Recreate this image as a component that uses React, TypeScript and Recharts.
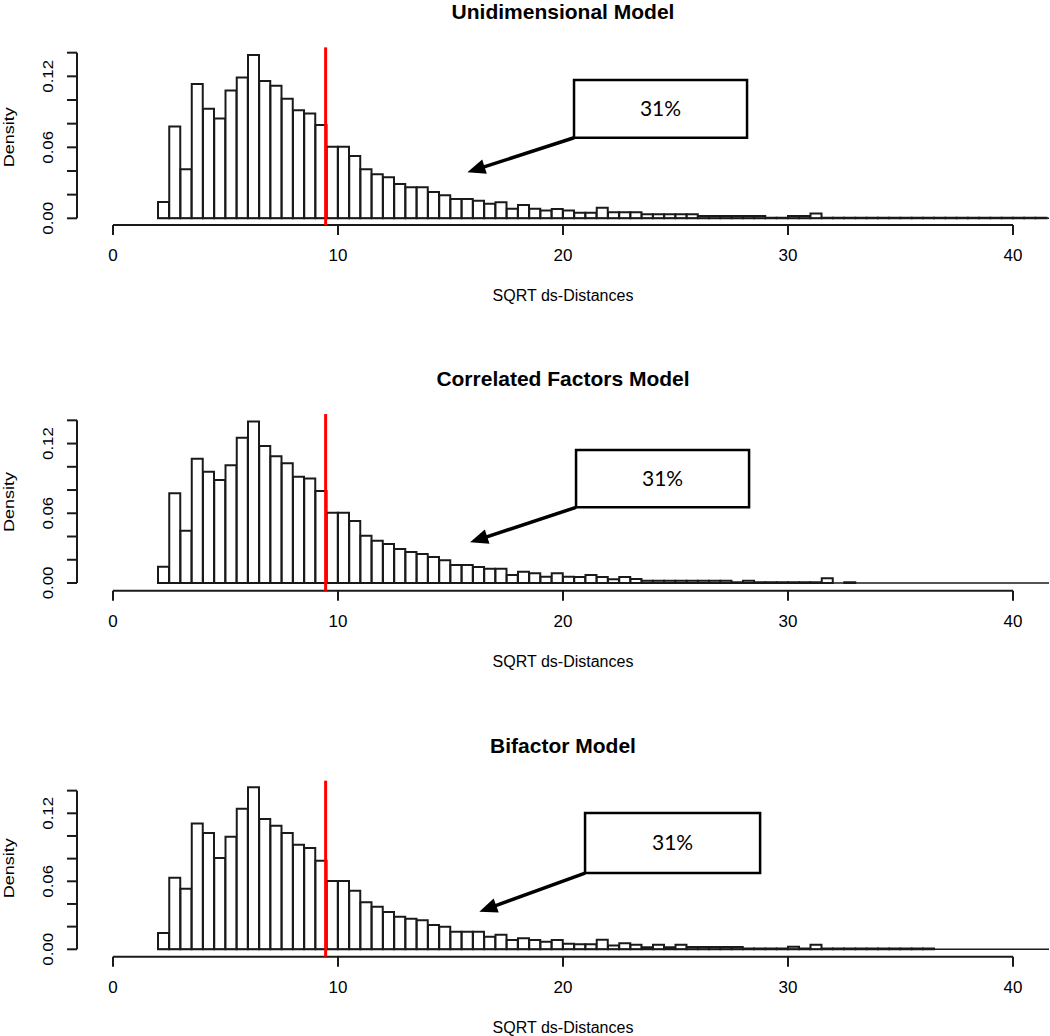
import React from "react";
import { BarChart, Bar, XAxis, YAxis, ReferenceLine, ReferenceArea } from "recharts";

// histogram bins: 0.5 wide, first bin starts at 2
const FIRST_BIN = 2;
const BIN_WIDTH = 0.5;

const X_TICKS = [0, 10, 20, 30, 40];
const Y_TICKS = [0, 0.02, 0.04, 0.06, 0.08, 0.1, 0.12, 0.14];
const Y_LABELLED = [0, 0.06, 0.12];
const CUTOFF = 9.45;
const PCT_LABEL = "31%";
const X_TITLE = "SQRT ds-Distances";
const Y_TITLE = "Density";
const TITLES = ["Unidimensional Model", "Correlated Factors Model", "Bifactor Model"];

const UNIDIMENSIONAL = [
  0.0138, 0.0775, 0.0414, 0.1135, 0.0927, 0.0843, 0.108, 0.119, 0.138, 0.116,
  0.112, 0.101, 0.0913, 0.0885, 0.0789, 0.0605, 0.0605, 0.0527, 0.0414, 0.0372,
  0.0347, 0.029, 0.0262, 0.0262, 0.0222, 0.0194, 0.0163, 0.0163, 0.0149, 0.0124,
  0.0135, 0.0081, 0.0112, 0.0081, 0.0065, 0.0079, 0.0065, 0.0048, 0.0048, 0.009,
  0.0051, 0.0051, 0.0051, 0.0034, 0.0034, 0.0034, 0.0034, 0.0034, 0.002, 0.002,
  0.002, 0.002, 0.002, 0.002, 0.0005, 0.0005, 0.002, 0.002, 0.004, 0.0005,
  0.0005, 0.0005, 0.0005, 0.0005, 0.0005, 0.0005, 0.0005, 0.0005, 0.0005, 0.0005,
  0.0005, 0.0005, 0.0005, 0.0005, 0.0005, 0.0005, 0.0005, 0.0005, 0.0005,
];

const CORRELATED = [
  0.014, 0.0772, 0.045, 0.107, 0.0958, 0.0886, 0.1013, 0.125, 0.139, 0.118,
  0.109, 0.103, 0.0915, 0.09, 0.0792, 0.0605, 0.0605, 0.0534, 0.0407, 0.0364,
  0.0336, 0.0293, 0.0267, 0.025, 0.0224, 0.0195, 0.0155, 0.0155, 0.0138, 0.0123,
  0.0123, 0.0069, 0.0097, 0.0083, 0.0054, 0.0083, 0.0053, 0.0052, 0.0069, 0.0052,
  0.0032, 0.0052, 0.0035, 0.002, 0.002, 0.002, 0.002, 0.002, 0.002, 0.002,
  0.002, 0.0006, 0.002, 0.0006, 0.0006, 0.0006, 0.0006, 0.0006, 0.0006, 0.004,
  0, 0.0006, 0, 0, 0, 0, 0, 0, 0, 0,
  0, 0, 0, 0, 0, 0, 0, 0, 0,
];

const BIFACTOR = [
  0.0144, 0.0632, 0.0535, 0.111, 0.1026, 0.0806, 0.0994, 0.124, 0.143, 0.115,
  0.109, 0.1026, 0.0923, 0.0894, 0.0782, 0.0603, 0.0603, 0.0517, 0.0415, 0.0376,
  0.0329, 0.0288, 0.027, 0.0256, 0.0214, 0.02, 0.0155, 0.0155, 0.0155, 0.0111,
  0.0129, 0.0082, 0.0097, 0.0082, 0.0067, 0.0082, 0.005, 0.0044, 0.0044, 0.0085,
  0.0033, 0.0053, 0.004, 0.0018, 0.004, 0.0018, 0.004, 0.002, 0.002, 0.002,
  0.002, 0.002, 0.0006, 0.0006, 0.0006, 0.0006, 0.0023, 0.0006, 0.004, 0.0006,
  0.0006, 0.0006, 0.0006, 0.0006, 0.0006, 0.0006, 0.0006, 0.0006, 0.0006, 0,
  0, 0, 0, 0, 0, 0, 0, 0, 0,
];

const SERIES = [UNIDIMENSIONAL, CORRELATED, BIFACTOR];

// annotation box + arrow, in data units
const ANNOTATIONS = [
  { x1: 20.49, x2: 28.18, y1: 0.0681, y2: 0.1169, tipX: 15.75, tipY: 0.0389 },
  { x1: 20.58, x2: 28.27, y1: 0.0651, y2: 0.1145, tipX: 15.87, tipY: 0.035 },
  { x1: 20.98, x2: 28.76, y1: 0.0673, y2: 0.1203, tipX: 16.28, tipY: 0.0332 },
];

// layout
const W = 1050;
const CHART_H = 304;
const PANEL_TOP = [0, 366, 732];
const PLOT_TOP = [40.85, 42.7, 47.3];
const PLOT_BOTTOM = [225, 224.7, 224.7];
const Y_MIN = [-0.00566, -0.00663, -0.00653];
const Y_MAX = 0.15;
const X_DOMAIN: [number, number] = [-1.6, 41.6];
const RED_TOP = [0.1445, 0.1454, 0.1488];
const TITLE_BASE = [18.5, 19.5, 20.5];
const FONT = "'Liberation Sans', Arial, sans-serif";
const INK = "#1a1a1a";

const toRows = (vals: number[]) =>
  vals.map((d, i) => ({ mid: FIRST_BIN + BIN_WIDTH * i + BIN_WIDTH / 2, d }));

const YTick = (props: any) => {
  const { x, y, payload } = props;
  if (!Y_LABELLED.some((v) => Math.abs(v - payload.value) < 1e-9)) return null;
  return (
    <text
      transform={`translate(${x - 17},${y}) scale(1,1.2) rotate(-90)`}
      textAnchor="middle"
      dominantBaseline="central"
      fontSize={14}
      fontFamily={FONT}
      fill="#000"
    >
      {payload.value.toFixed(2)}
    </text>
  );
};

const Arrow = (props: any) => {
  const { x1, y1, x2, y2 } = props;
  const a = Math.atan2(y2 - y1, x2 - x1);
  const len = 18;
  const half = 7.5;
  const bx = x2 - len * Math.cos(a);
  const by = y2 - len * Math.sin(a);
  const px = -Math.sin(a) * half;
  const py = Math.cos(a) * half;
  return (
    <g>
      <line x1={x1} y1={y1} x2={bx + 2 * Math.cos(a)} y2={by + 2 * Math.sin(a)} stroke="#000" strokeWidth={3.5} />
      <polygon points={`${x2},${y2} ${bx + px},${by + py} ${bx - px},${by - py}`} fill="#000" />
    </g>
  );
};

const Panel = ({ i }: { i: number }) => {
  const rows = toRows(SERIES[i]);
  const yMin = Y_MIN[i];
  const ann = ANNOTATIONS[i];
  const zeroY = PLOT_TOP[i] + (Y_MAX / (Y_MAX - yMin)) * (PLOT_BOTTOM[i] - PLOT_TOP[i]);
  return (
    <div style={{ position: "absolute", left: 0, top: PANEL_TOP[i], width: W, height: CHART_H }}>
      <BarChart
        width={W}
        height={CHART_H}
        data={rows}
        margin={{ top: PLOT_TOP[i], right: 1, bottom: 0, left: 0 }}
        barCategoryGap={0}
        barGap={0}
      >
        <XAxis
          type="number"
          dataKey="mid"
          domain={X_DOMAIN}
          allowDataOverflow
          ticks={X_TICKS}
          interval={0}
          axisLine={false}
          tickSize={10}
          tickMargin={14}
          tickLine={{ stroke: INK, strokeWidth: 2 }}
          tick={{ fontSize: 17, fill: "#000", fontFamily: FONT }}
          height={CHART_H - PLOT_BOTTOM[i]}
        />
        <YAxis
          type="number"
          domain={[yMin, Y_MAX]}
          allowDataOverflow
          ticks={Y_TICKS}
          interval={0}
          axisLine={false}
          tickSize={10}
          tickLine={{ stroke: INK, strokeWidth: 2 }}
          tick={<YTick />}
          width={77}
        />
        <ReferenceLine
          segment={[{ x: FIRST_BIN, y: 0 }, { x: X_DOMAIN[1], y: 0 }]}
          stroke={INK}
          strokeWidth={1.5}
          ifOverflow="visible"
        />
        <Bar dataKey="d" fill="#fff" stroke={INK} strokeWidth={2} isAnimationActive={false} />
        <ReferenceLine
          segment={[{ x: 0, y: yMin }, { x: 40, y: yMin }]}
          stroke={INK}
          strokeWidth={2}
          ifOverflow="visible"
        />
        <ReferenceLine
          segment={[{ x: X_DOMAIN[0], y: 0 }, { x: X_DOMAIN[0], y: 0.14 }]}
          stroke={INK}
          strokeWidth={2}
          ifOverflow="visible"
        />
        <ReferenceLine
          segment={[{ x: CUTOFF, y: yMin }, { x: CUTOFF, y: RED_TOP[i] }]}
          stroke="#ff0000"
          strokeWidth={3}
          ifOverflow="visible"
        />
        <ReferenceArea
          x1={ann.x1}
          x2={ann.x2}
          y1={ann.y1}
          y2={ann.y2}
          fill="#fff"
          fillOpacity={1}
          stroke="#000"
          strokeWidth={2.5}
          ifOverflow="visible"
          label={{ value: PCT_LABEL, position: "center", fontSize: 21, fill: "#000", fontFamily: "Lato, 'Open Sans', sans-serif" }}
        />
        <ReferenceLine
          segment={[{ x: ann.x1, y: ann.y1 }, { x: ann.tipX, y: ann.tipY }]}
          ifOverflow="visible"
          shape={Arrow}
        />
      </BarChart>
      <svg
        width={W}
        height={CHART_H}
        style={{ position: "absolute", left: 0, top: 0, pointerEvents: "none" }}
      >
        <text x={563} y={TITLE_BASE[i]} textAnchor="middle" fontSize={21} fontWeight="bold" fontFamily={FONT} fill="#000">
          {TITLES[i]}
        </text>
        <text x={563} y={301} textAnchor="middle" fontSize={16} fontFamily={FONT} fill="#000">
          {X_TITLE}
        </text>
        <text
          transform={`translate(9,${zeroY - 81}) scale(1,1.2) rotate(-90)`}
          textAnchor="middle"
          dominantBaseline="central"
          fontSize={15}
          fontFamily={FONT}
          fill="#000"
        >
          {Y_TITLE}
        </text>
      </svg>
    </div>
  );
};

export default function App() {
  return (
    <div style={{ position: "absolute", left: 0, top: 0, width: W, height: 1036, background: "#fff", overflow: "hidden" }}>
      {[0, 1, 2].map((i) => (
        <Panel key={i} i={i} />
      ))}
    </div>
  );
}
